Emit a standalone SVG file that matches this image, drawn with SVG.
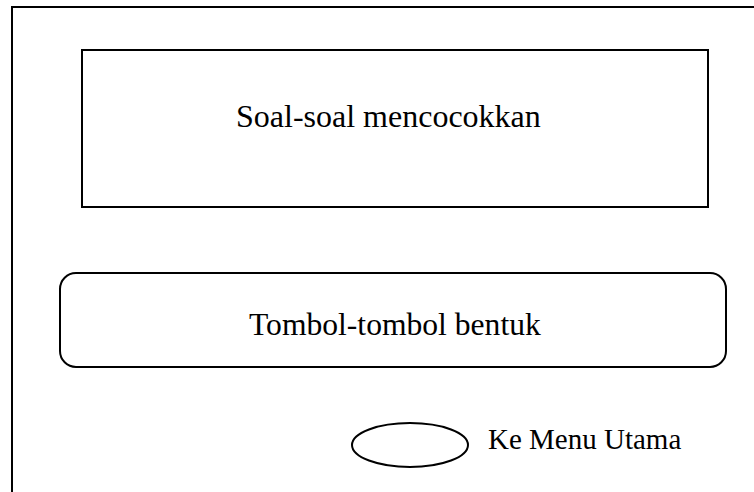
<svg xmlns="http://www.w3.org/2000/svg" width="754" height="492" viewBox="0 0 754 492">
  <style>
    .box { fill: #ffffff; stroke: #000000; stroke-width: 2; }
    .label { font-family: "Liberation Serif", "Times New Roman", serif; fill: #000000; }
  </style>
  <rect x="0" y="0" width="754" height="492" fill="#ffffff"/>
  <!-- screen frame, runs off the right and bottom edges -->
  <g id="frame">
    <rect class="box" x="12" y="7" width="800" height="600"/>
  </g>
  <g id="soal">
    <rect class="box" x="82" y="50" width="626" height="157"/>
    <text class="label" x="236" y="127" font-size="32">Soal-soal mencocokkan</text>
  </g>
  <g id="tombol">
    <rect class="box" x="60" y="273" width="666" height="94" rx="16" ry="16"/>
    <text class="label" x="249" y="335" font-size="31.6">Tombol-tombol bentuk</text>
  </g>
  <g id="menu-utama">
    <ellipse class="box" cx="410" cy="445" rx="58" ry="22"/>
    <text class="label" x="488" y="449" font-size="29">Ke Menu Utama</text>
  </g>
  <g id="connectors"></g>
</svg>
